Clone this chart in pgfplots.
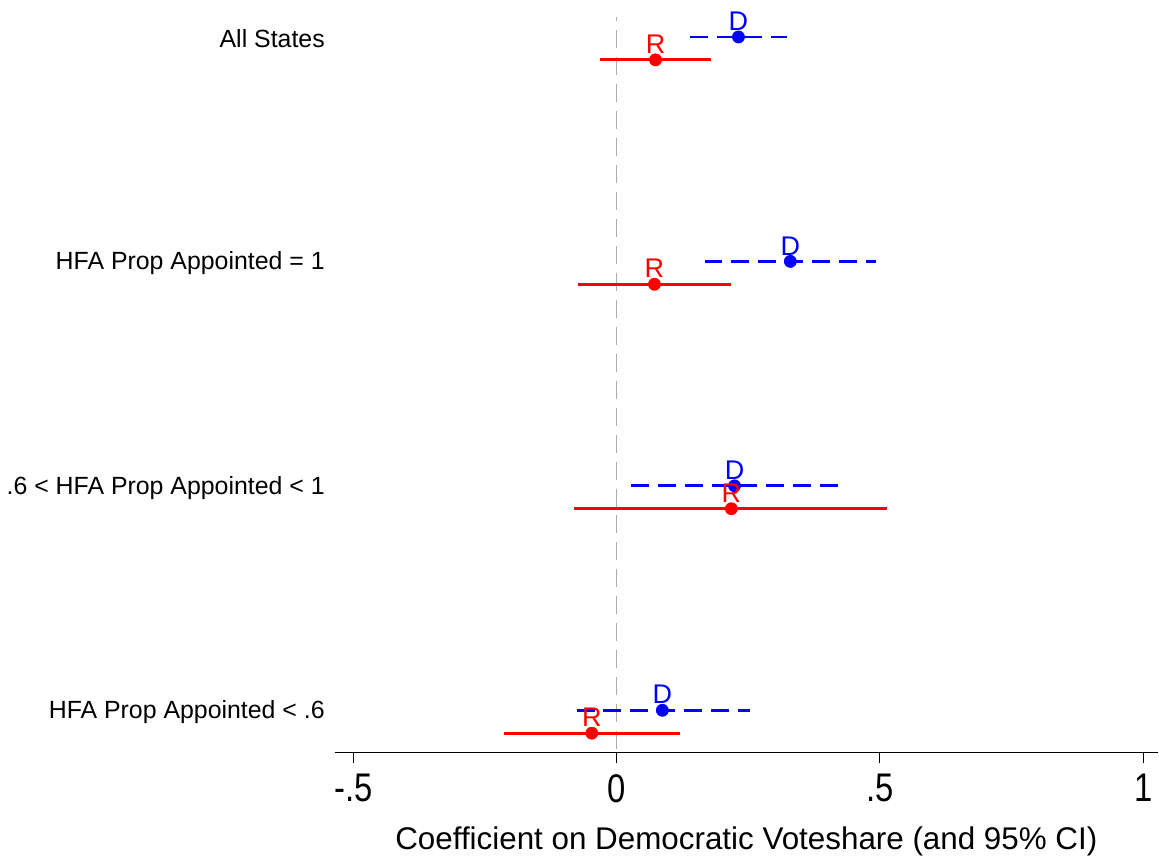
\documentclass[border=0pt]{standalone}
\usepackage{fontspec}
\setmainfont{Liberation Sans}
\newfontfamily\narrowfont[FakeStretch=0.82]{Liberation Sans}
\usepackage{pgfplots}
\pgfplotsset{compat=1.18}
\begin{document}
\begin{tikzpicture}
\begin{axis}[
  name=main,
  scale only axis,
  width=412pt, height=368pt,
  xmin=-0.535, xmax=1.028,
  ymin=0.813, ymax=4.089,
  axis x line*=bottom,
  axis y line*=left,
  y axis line style={draw=none},
  ytick style={draw=none},
  xtick={-0.5,0,0.5,1},
  xticklabels={-.5,0,.5,1},
  x tick label style={font=\narrowfont\fontsize{20}{22}\selectfont, yshift=-2pt},
  tick align=outside,
  major tick length=5.5pt,
  x axis line style={line width=0.6pt},
  xtick style={line width=0.6pt, black},
  ytick={1,2,3,4},
  yticklabels={HFA Prop Appointed < .6, .6 < HFA Prop Appointed < 1, HFA Prop Appointed = 1, All States},
  y tick label style={font=\fontsize{12.45}{14}\selectfont, xshift=4pt, yshift=-1pt},
  xlabel={Coefficient on Democratic Voteshare (and 95\% CI)},
  xlabel style={font=\fontsize{15.7}{18}\selectfont, yshift=-5pt},
  clip=false,
  unbounded coords=jump,
]
\addplot[gray!65, line width=0.9pt, dash pattern=on 9pt off 4.5pt, dash phase=7pt] coordinates {(0,4.089) (0,0.813)};
% D confidence intervals
\addplot[blue, line width=1.4pt, dash pattern=on 9pt off 4.5pt] coordinates {
(0.14,4) (0.323,4) (nan,nan)
(0.167,3) (0.493,3) (nan,nan)
(0.028,2) (0.423,2) (nan,nan)
(-0.076,1) (0.254,1)};
% R confidence intervals
\addplot[red, line width=1.4pt] coordinates {
(-0.032,3.898) (0.18,3.898) (nan,nan)
(-0.074,2.898) (0.218,2.898) (nan,nan)
(-0.08,1.898) (0.514,1.898) (nan,nan)
(-0.214,0.898) (0.12,0.898)};
% D points
\addplot[blue, only marks, mark=*, mark size=3pt,
  nodes near coords={D}, every node near coord/.append style={font=\fontsize{13.5}{15}\selectfont, text=blue, inner sep=1pt, yshift=2pt}]
  coordinates {(0.2315,4) (0.33,3) (0.224,2) (0.087,1)};
% R points
\addplot[red, only marks, mark=*, mark size=3pt,
  nodes near coords={R}, every node near coord/.append style={font=\fontsize{13.5}{15}\selectfont, text=red, inner sep=1pt, yshift=2pt}]
  coordinates {(0.074,3.898) (0.072,2.898) (0.218,1.898) (-0.047,0.898)};
\end{axis}
\path (main.north) -- ++(0,8.5pt);
\end{tikzpicture}
\end{document}
